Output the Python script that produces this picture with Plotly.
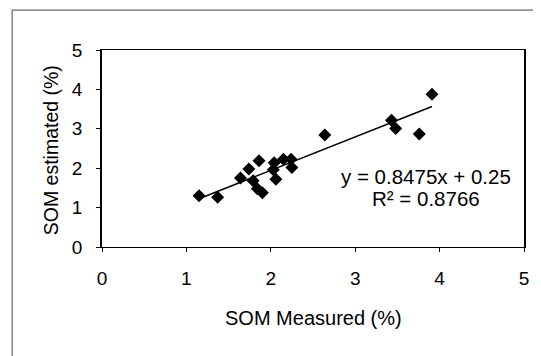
import plotly.graph_objects as go

# Data
som_measured = [1.15, 1.37, 1.64, 1.74, 1.86, 1.79, 1.84, 1.90, 2.04, 2.03, 2.06,
                2.15, 2.24, 2.25, 2.64, 3.43, 3.48, 3.76, 3.91]
som_estimated = [1.30, 1.26, 1.75, 1.98, 2.19, 1.68, 1.48, 1.38, 2.14, 1.96, 1.72,
                 2.23, 2.23, 2.02, 2.84, 3.22, 3.01, 2.87, 3.88]
slope = 0.8475
intercept = 0.25
r_squared = 0.8766
tick_vals = [0, 1, 2, 3, 4, 5]

x_min, x_max = min(som_measured), max(som_measured)
trend_x = [x_min, x_max]
trend_y = [slope * v + intercept for v in trend_x]

FONT = "Liberation Sans, Arial, sans-serif"

fig = go.Figure()
fig.add_trace(go.Scatter(x=trend_x, y=trend_y, mode="lines",
                         line=dict(color="black", width=1.6), showlegend=False,
                         hoverinfo="skip"))
fig.add_trace(go.Scatter(x=som_measured, y=som_estimated, mode="markers",
                         marker=dict(symbol="diamond", size=10, color="black"),
                         showlegend=False))

axis_common = dict(range=[0, 5], tickvals=tick_vals, ticks="outside", ticklen=4,
                   tickwidth=1, tickcolor="black", showgrid=False, zeroline=False,
                   showline=True, linecolor="black", mirror=True,
                   tickfont=dict(family=FONT, size=19, color="black"),
                   ticklabelstandoff=10)
fig.update_xaxes(**axis_common, linewidth=1.3)
fig.update_yaxes(**axis_common, linewidth=1.6)

fig.add_annotation(x=0.5, y=-0.358, xref="paper", yref="paper",
                   xanchor="center", yanchor="middle",
                   text="SOM Measured (%)", showarrow=False,
                   font=dict(family=FONT, size=20, color="black"))
fig.add_annotation(x=-0.119, y=0.49, xref="paper", yref="paper",
                   xanchor="center", yanchor="middle",
                   text="SOM estimated (%)", showarrow=False, textangle=-90,
                   font=dict(family=FONT, size=19.5, color="black"))
fig.add_annotation(x=3.84, y=1.78, xref="x", yref="y",
                   xanchor="center", yanchor="middle",
                   text=f"y = {slope}x + {intercept}", showarrow=False,
                   font=dict(family=FONT, size=20.5, color="black"))
fig.add_annotation(x=3.84, y=1.22, xref="x", yref="y",
                   xanchor="center", yanchor="middle",
                   text=f"R² = {r_squared}", showarrow=False,
                   font=dict(family=FONT, size=20.5, color="black"))

# outer chart border (left and top visible)
fig.add_shape(type="line", xref="paper", yref="paper", x0=-0.213, x1=-0.213,
              y0=-0.6, y1=1.2027, line=dict(color="#444", width=1))
fig.add_shape(type="line", xref="paper", yref="paper", x0=-0.213, x1=1.1,
              y0=1.2027, y1=1.2027, line=dict(color="#444", width=1))

fig.update_layout(width=533, height=348,
                  margin=dict(l=94, r=17, t=42, b=109),
                  paper_bgcolor="white", plot_bgcolor="white")

fig.write_html("out.html")
